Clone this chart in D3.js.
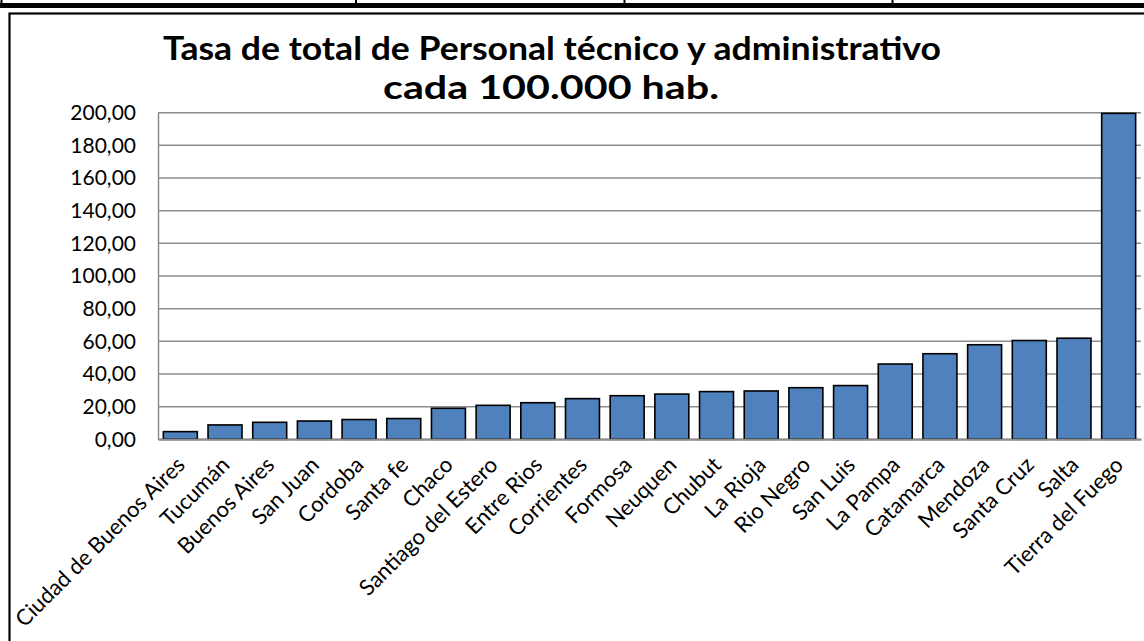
<!DOCTYPE html>
<html>
<head>
<meta charset="utf-8">
<script src="https://cdn.jsdelivr.net/npm/d3@7"></script>
<style>
  body { margin: 0; background: #fff; }
  svg { display: block; }
  text { font-family: Lato, "Open Sans", sans-serif; fill: #000; }
</style>
</head>
<body>
<div id="chart"></div>
<script>
// data
const provincias = [
  'Ciudad de Buenos Aires', 'Tucumán', 'Buenos Aires', 'San Juan', 'Cordoba',
  'Santa fe', 'Chaco', 'Santiago del Estero', 'Entre Rios', 'Corrientes',
  'Formosa', 'Neuquen', 'Chubut', 'La Rioja', 'Rio Negro', 'San Luis',
  'La Pampa', 'Catamarca', 'Mendoza', 'Santa Cruz', 'Salta', 'Tierra del Fuego'
];
const tasas = [
  4.7, 8.8, 10.4, 11.2, 12.1, 12.7, 19.0, 20.8, 22.4, 24.9, 26.7,
  27.7, 29.2, 29.6, 31.6, 32.9, 46.1, 52.4, 57.9, 60.5, 61.9, 199.6
];
const yTicks = [0, 20, 40, 60, 80, 100, 120, 140, 160, 180, 200];
const titulo = ['Tasa de total de Personal técnico y administrativo', 'cada 100.000 hab.'];

const data = provincias.map((p, i) => ({ name: p, value: tasas[i] }));

const w = 1144;
const h = 641;
const plot = { left: 158, right: 1141, top: 112.7, bottom: 439.3 };

const es = d3.formatLocale({ decimal: ',', thousands: '.', grouping: [3], currency: ['$', ''] });
const fmt = es.format('.2f');

const svg = d3.select('#chart')
    .append('svg')
    .attr('width', w)
    .attr('height', h);

// remains of the table above the chart
svg.append('rect')
    .attr('x', 0).attr('y', 3)
    .attr('width', w).attr('height', 5)
    .attr('fill', '#000');
[1.5, 356, 624.5, 892.5].forEach(x => {
    svg.append('line')
        .attr('x1', x).attr('x2', x)
        .attr('y1', 0).attr('y2', 3)
        .attr('stroke', '#000')
        .attr('stroke-width', 2);
});

// chart frame
svg.append('rect')
    .attr('x', 9.5).attr('y', 13.5)
    .attr('width', w + 20).attr('height', h + 20)
    .attr('fill', '#fff')
    .attr('stroke', '#000')
    .attr('stroke-width', 2.2);

const xScale = d3.scaleBand()
    .domain(provincias)
    .range([plot.left, plot.right])
    .paddingInner(0.24)
    .paddingOuter(0.12);

const yScale = d3.scaleLinear()
    .domain([0, 200])
    .range([plot.bottom, plot.top]);

// gridlines
svg.append('g')
    .selectAll('line')
    .data(yTicks)
    .enter()
    .append('line')
    .attr('x1', plot.left)
    .attr('x2', plot.right)
    .attr('y1', d => yScale(d))
    .attr('y2', d => yScale(d))
    .attr('stroke', '#8c8c8c')
    .attr('stroke-width', 1.5);

// y axis
const yAxis = svg.append('g')
    .attr('transform', `translate(${plot.left}, 0)`)
    .call(d3.axisLeft(yScale).tickValues(yTicks).tickFormat(fmt).tickSize(0).tickPadding(22));
yAxis.select('.domain').attr('stroke', '#8c8c8c').attr('stroke-width', 1.5);
yAxis.selectAll('text')
    .attr('font-size', 21)
    .attr('font-family', 'Lato, sans-serif')
    .attr('fill', '#000');

// bars
svg.append('g')
    .selectAll('rect')
    .data(data)
    .enter()
    .append('rect')
    .attr('x', d => xScale(d.name))
    .attr('y', d => yScale(d.value))
    .attr('width', xScale.bandwidth())
    .attr('height', d => yScale(0) - yScale(d.value))
    .attr('fill', '#4f81bd')
    .attr('stroke', '#000')
    .attr('stroke-width', 1.6);

// x axis
const xAxis = svg.append('g')
    .attr('transform', `translate(0, ${plot.bottom})`)
    .call(d3.axisBottom(xScale).tickSize(0).tickFormat(''));
xAxis.select('.domain').attr('stroke', '#8c8c8c').attr('stroke-width', 2);

svg.append('g')
    .selectAll('text')
    .data(provincias)
    .enter()
    .append('text')
    .attr('transform', d => `translate(${xScale(d) + xScale.bandwidth() / 2 + 6}, ${plot.bottom + 27}) rotate(-45)`)
    .attr('text-anchor', 'end')
    .attr('font-size', 22)
    .text(d => d);

// title, fitted to the width it has in the picture
const tituloAncho = [778, 336];
const tituloX = [552, 551];
svg.append('g')
    .selectAll('text')
    .data(titulo)
    .enter()
    .append('text')
    .attr('x', (d, i) => tituloX[i])
    .attr('y', (d, i) => 60 + i * 39)
    .attr('text-anchor', 'middle')
    .attr('font-size', 32)
    .attr('font-weight', 'bold')
    .attr('textLength', (d, i) => tituloAncho[i])
    .attr('lengthAdjust', 'spacingAndGlyphs')
    .text(d => d);
</script>
</body>
</html>
